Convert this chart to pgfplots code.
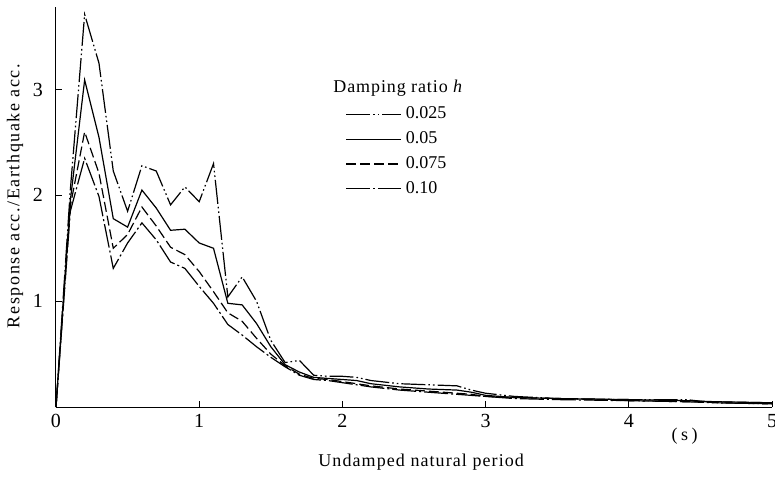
\documentclass[border=0pt]{standalone}
\usepackage{fontspec}
\setmainfont{Liberation Serif}
\usepackage{pgfplots}
\usepackage{pgfplotstable}
\pgfplotsset{compat=1.18}

\pgfplotstableread{
T     h025  h05   h075  h10
0.0   0.00  0.00  0.00  0.00
0.1   2.05  1.95  1.90  1.85
0.2   3.71  3.09  2.60  2.35
0.3   3.25  2.55  2.21  1.99
0.4   2.23  1.78  1.50  1.31
0.5   1.85  1.70  1.63  1.55
0.6   2.28  2.05  1.89  1.74
0.7   2.23  1.88  1.71  1.58
0.8   1.91  1.67  1.51  1.37
0.9   2.08  1.68  1.44  1.31
1.0   1.94  1.55  1.28  1.14
1.1   2.30  1.50  1.09  0.98
1.2   1.04  0.98  0.89  0.78
1.3   1.23  0.965 0.81  0.68
1.4   1.00  0.79  0.65  0.57
1.5   0.63  0.57  0.50  0.47
1.6   0.42  0.40  0.39  0.38
1.7   0.44  0.33  0.31  0.30
1.8   0.30  0.28  0.27  0.26
1.9   0.29  0.27  0.26  0.25
2.0   0.29  0.26  0.24  0.23
2.1   0.28  0.25  0.22  0.21
2.2   0.25  0.22  0.20  0.19
2.4   0.22  0.19  0.17  0.16
2.6   0.21  0.17  0.15  0.14
2.8   0.20  0.16  0.13  0.12
2.9   0.16  0.14  0.12  0.11
3.0   0.13  0.11  0.10  0.10
3.2   0.10  0.09  0.09  0.08
3.5   0.08  0.08  0.08  0.07
4.0   0.07  0.07  0.06  0.06
4.4   0.07  0.06  0.05  0.05
4.6   0.04  0.05  0.05  0.04
5.0   0.03  0.04  0.04  0.03
}\spectra

\begin{document}
\begin{tikzpicture}[x=1pt,y=1pt]
\path[use as bounding box] (-28pt,-35.5pt) rectangle (359.5pt,203.5pt);
\begin{axis}[
  at={(0,0)}, anchor=origin,
  scale only axis,
  width=358pt, height=200pt,
  xmin=0, xmax=5, ymin=0, ymax=3.78,
  axis x line=bottom, axis y line=left,
  axis line style={-, line width=0.5pt},
  xtick={0,1,2,3,4,5},
  ytick={1,2,3},
  tick align=inside,
  major tick length=3pt,
  tick style={line width=0.5pt, black},
  /pgf/number format/assume math mode=true,
  ticklabel style={font=\fontsize{10}{12}\selectfont},
  yticklabel style={xshift=-3pt},
  xlabel={\addfontfeature{LetterSpace=6}Undamped natural period},
  ylabel={\addfontfeature{LetterSpace=9}Response acc./Earthquake acc.},
  every axis x label/.style={at={(axis description cs:0.51,0)}, anchor=center, yshift=-27.5pt, font=\fontsize{9}{11}\selectfont},
  every axis y label/.style={at={([xshift=-20.5pt]axis description cs:0,0.5275)}, anchor=center, rotate=90, font=\fontsize{9}{11}\selectfont},
  clip=false,
  legend cell align=left,
  legend style={draw=none, fill=none, at={(axis cs:2.02,2.885)}, anchor=north west,
    font=\fontsize{9}{11}\selectfont, row sep=0pt, inner sep=0pt,
    nodes={inner ysep=2.45pt}},
  legend image code/.code={\draw[#1, line width=0.6pt] (0pt,0pt) -- (27.5pt,0pt);},
  /tikz/every even column/.append style={column sep=8pt},
]
\addplot[black, line width=0.6pt, dash pattern=on 12pt off 1.5pt on 0.8pt off 1.5pt on 0.8pt off 1.5pt] table[x=T,y=h025] {\spectra};
\addlegendentry{0.025}
\addplot[black, line width=0.6pt] table[x=T,y=h05] {\spectra};
\addlegendentry{0.05}
\addplot[black, line width=0.6pt, dash pattern=on 5pt off 2pt] table[x=T,y=h075] {\spectra};
\addlegendentry{0.075}
\addplot[black, line width=0.6pt, dash pattern=on 12pt off 1.5pt on 1pt off 1.5pt] table[x=T,y=h10] {\spectra};
\addlegendentry{0.10}
\node[font=\fontsize{9}{11}\selectfont, anchor=center] at (axis cs:2.39,3.013) {\addfontfeature{LetterSpace=5}Damping ratio \textit{h}};
\node[font=\fontsize{9}{11}\selectfont, anchor=center] at (axis cs:4.39,-0.28) {\addfontfeature{LetterSpace=20}(s)};
\end{axis}
\end{tikzpicture}
\end{document}
